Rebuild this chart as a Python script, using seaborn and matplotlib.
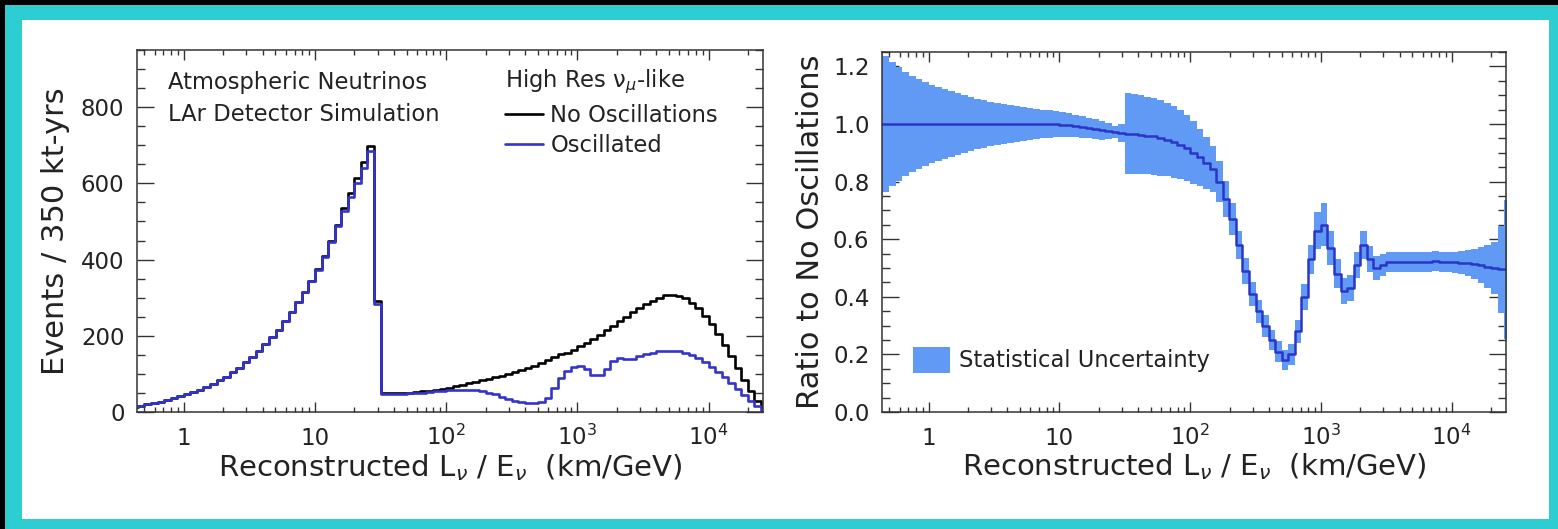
import matplotlib

matplotlib.use("Agg")

import matplotlib.pyplot as plt
import numpy as np
import pandas as pd
import seaborn as sns
from matplotlib.patches import Rectangle
from matplotlib.ticker import LogLocator, MultipleLocator, NullFormatter

sns.set_theme(style="ticks")
plt.rcParams["font.family"] = ["DejaVu Sans"]

# log10(L/E) binning, 0.05 decade bins
LOG_EDGE_LO = -0.40
LOG_EDGE_HI = 4.45
BIN_WIDTH = 0.05

# events per bin, no oscillations (black)
NO_OSC = [
    14, 17, 20, 23, 27, 31, 36, 41, 47, 53,
    59, 66, 74, 83, 93, 104, 116, 130, 145, 161,
    178, 196, 216, 238, 262, 288, 315, 344, 375, 410,
    450, 492, 535, 575, 615, 655, 697, 290, 50, 49,
    49, 50, 51, 52, 54, 56, 58, 61, 64, 67,
    71, 75, 79, 83, 87, 91, 95, 100, 105, 110,
    116, 122, 129, 136, 144, 152, 155, 163, 172, 182,
    192, 203, 214, 226, 238, 250, 262, 273, 283, 292,
    300, 306, 308, 305, 298, 287, 272, 253, 230, 204,
    176, 146, 115, 84, 55, 30, 12,
]

# events per bin, oscillated (blue)
OSC = [
    14, 17, 20, 23, 27, 31, 36, 41, 47, 53,
    59, 66, 74, 83, 93, 104, 116, 130, 145, 161,
    178, 196, 216, 238, 262, 288, 315, 343, 373, 407,
    446, 488, 528, 565, 602, 640, 684, 283, 48, 47,
    47, 48, 49, 50, 51, 52, 54, 56, 57, 58,
    58, 58, 57, 55, 51, 46, 40, 34, 29, 25,
    23, 23, 27, 38, 62, 88, 108, 118, 120, 112,
    98, 96, 112, 135, 143, 138, 140, 148, 152, 156,
    159, 161, 161, 159, 155, 149, 141, 131, 119, 106,
    92, 77, 61, 44, 28, 15, 6,
]

# ratio oscillated / no oscillations and its statistical half-width
RATIO = [
    1.0, 1.0, 1.0, 1.0, 1.0, 1.0, 1.0, 1.0, 1.0, 1.0,
    1.0, 1.0, 1.0, 1.0, 1.0, 1.0, 1.0, 1.0, 1.0, 1.0,
    1.0, 1.0, 1.0, 1.0, 1.0, 1.0, 1.0, 0.999, 0.998, 0.996,
    0.993, 0.99, 0.986, 0.982, 0.978, 0.975, 0.972, 0.969, 0.967, 0.965,
    0.963, 0.96, 0.957, 0.952, 0.946, 0.938, 0.928, 0.916, 0.901, 0.884,
    0.864, 0.845, 0.80, 0.74, 0.67, 0.58, 0.49, 0.41, 0.35, 0.30,
    0.25, 0.21, 0.18, 0.20, 0.28, 0.40, 0.53, 0.63, 0.65, 0.57,
    0.48, 0.42, 0.43, 0.51, 0.58, 0.53, 0.50, 0.51, 0.52, 0.52,
    0.521, 0.522, 0.521, 0.52, 0.522, 0.523, 0.522, 0.521, 0.52, 0.518,
    0.517, 0.515, 0.51, 0.505, 0.50, 0.495, 0.495,
]
RATIO_ERR = [
    0.26, 0.235, 0.215, 0.197, 0.181, 0.167, 0.155, 0.145, 0.136, 0.128,
    0.12, 0.113, 0.106, 0.10, 0.094, 0.088, 0.083, 0.078, 0.074, 0.07,
    0.066, 0.062, 0.058, 0.055, 0.052, 0.049, 0.047, 0.045, 0.043, 0.041,
    0.039, 0.037, 0.036, 0.034, 0.032, 0.028, 0.02, 0.03, 0.14, 0.138,
    0.136, 0.135, 0.133, 0.131, 0.128, 0.125, 0.12, 0.115, 0.108, 0.10,
    0.09, 0.08, 0.07, 0.062, 0.055, 0.05, 0.045, 0.042, 0.04, 0.038,
    0.036, 0.035, 0.035, 0.037, 0.04, 0.045, 0.05, 0.065, 0.075, 0.06,
    0.05, 0.045, 0.045, 0.045, 0.05, 0.045, 0.04, 0.037, 0.035, 0.035,
    0.035, 0.035, 0.035, 0.035, 0.035, 0.035, 0.035, 0.036, 0.037, 0.04,
    0.045, 0.052, 0.062, 0.075, 0.09, 0.15, 0.24,
]

XTICKS = [1, 10, 100, 1000, 10000]
XTICK_LABELS = ["1", "10", "$10^{2}$", "$10^{3}$", "$10^{4}$"]
XLIM = (0.44, 2.6e4)

CYAN = "#2ecdd2"
OSC_BLUE = "#3434cc"
BAND_BLUE = "#609af5"
RATIO_BLUE = "#2b36c6"
TEXT = "#222222"

W, H = 1558, 529

log_edges = np.round(np.arange(LOG_EDGE_LO, LOG_EDGE_HI + 1e-9, BIN_WIDTH), 3)
edges = 10 ** log_edges
bin_list = list(edges)
df = pd.DataFrame(
    {
        "le": 10 ** (log_edges[:-1] + BIN_WIDTH / 2),
        "no_osc": NO_OSC,
        "osc": OSC,
        "ratio": RATIO,
        "err": RATIO_ERR,
    }
)

fig = plt.figure(figsize=(W / 100, H / 100), dpi=100)
fig.patch.set_facecolor("black")
fig.add_artist(
    Rectangle((5 / W, 0), 1 - 5 / W, (H - 5) / H, transform=fig.transFigure,
              facecolor=CYAN, edgecolor="none", zorder=-2)
)
fig.add_artist(
    Rectangle((22 / W, 10 / H), (1549 - 22) / W, (519 - 20) / H,
              transform=fig.transFigure, facecolor="white", edgecolor="none",
              zorder=-1)
)

ax1 = fig.add_axes([137 / W, (H - 412) / H, (763 - 137) / W, (412 - 50) / H])
ax2 = fig.add_axes([882 / W, (H - 412) / H, (1506 - 882) / W, (412 - 52) / H])

# ── left: event spectra ──────────────────────────────────────────────────────
sns.histplot(df, x="le", weights="no_osc", bins=bin_list, element="step",
             fill=False, color="black", linewidth=1.9, label="No Oscillations",
             ax=ax1)
sns.histplot(df, x="le", weights="osc", bins=bin_list, element="step",
             fill=False, color=OSC_BLUE, linewidth=1.9, label="Oscillated",
             ax=ax1)
ax1.set_ylim(0, 950)
ax1.yaxis.set_major_locator(MultipleLocator(200))
ax1.yaxis.set_minor_locator(MultipleLocator(50))
ax1.set_ylabel("Events / 350 kt-yrs", fontsize=22, color=TEXT)
ax1.yaxis.set_label_coords(-0.107, 0.5)

ax1.text(0.0495, 0.909, "Atmospheric Neutrinos", transform=ax1.transAxes,
         fontsize=16.3, va="center", color=TEXT)
ax1.text(0.0495, 0.822, "LAr Detector Simulation", transform=ax1.transAxes,
         fontsize=16.3, va="center", color=TEXT)
leg = ax1.legend(
    title="High Res ν$_{\\mu}$-like",
    loc="upper left",
    bbox_to_anchor=((505 - 137) / 626, (412 - 68) / 362),
    frameon=False,
    fontsize=16.3,
    title_fontsize=16.3,
    handlelength=1.7,
    handletextpad=0.3,
    labelspacing=0.32,
    borderpad=0,
    borderaxespad=0,
    alignment="left",
)
for t in leg.get_texts():
    t.set_color(TEXT)
leg.get_title().set_color(TEXT)

# ── right: ratio with statistical band ───────────────────────────────────────
lower = (df["ratio"] - df["err"]).to_numpy()
upper = (df["ratio"] + df["err"]).to_numpy()
ax2.fill_between(edges, np.append(lower, lower[-1]),
                 np.append(upper, upper[-1]), step="post",
                 color=BAND_BLUE, linewidth=0, label="Statistical Uncertainty")
sns.histplot(df, x="le", weights="ratio", bins=bin_list, element="step",
             fill=False, color=RATIO_BLUE, linewidth=1.8, ax=ax2)
ax2.set_ylim(0, 1.25)
ax2.yaxis.set_major_locator(MultipleLocator(0.2))
ax2.yaxis.set_minor_locator(MultipleLocator(0.05))
ax2.yaxis.set_major_formatter(matplotlib.ticker.FormatStrFormatter("%.1f"))
ax2.set_ylabel("Ratio to No Oscillations", fontsize=22, color=TEXT)
ax2.yaxis.set_label_coords(-0.091, 0.5)
leg2 = ax2.legend(
    loc="center left",
    bbox_to_anchor=((913 - 882) / 624, (412 - 360) / 360),
    frameon=False,
    fontsize=16.3,
    handlelength=1.65,
    handleheight=1.45,
    handletextpad=0.4,
    borderpad=0,
    borderaxespad=0,
)
for t in leg2.get_texts():
    t.set_color(TEXT)

# ── shared axis styling ──────────────────────────────────────────────────────
for ax in (ax1, ax2):
    ax.set_xscale("log")
    ax.set_xlim(*XLIM)
    ax.set_xticks(XTICKS, XTICK_LABELS)
    ax.xaxis.set_minor_locator(LogLocator(base=10, subs=np.arange(2, 10), numticks=50))
    ax.xaxis.set_minor_formatter(NullFormatter())
    ax.set_xlabel("Reconstructed L$_{\\nu}$ / E$_{\\nu}$  (km/GeV)",
                  fontsize=21, color=TEXT)
    ax.xaxis.set_label_coords(0.5, -0.11)
    ax.set_facecolor("white")
    for spine in ax.spines.values():
        spine.set_color("#333333")
        spine.set_linewidth(1.1)
    ax.tick_params(which="both", direction="in", top=True, right=True,
                   color="#333333", labelcolor=TEXT, labelsize=16.5, width=1.0)
    ax.tick_params(axis="x", which="major", length=7.5, pad=23.8)
    ax.tick_params(axis="x", which="minor", length=3.5)
    ax.tick_params(axis="y", which="major", length=12, pad=9)
    ax.tick_params(axis="y", which="minor", length=6)
    for lab in ax.get_xticklabels():
        lab.set_verticalalignment("baseline")

fig.savefig("out.png", dpi=100, facecolor=fig.get_facecolor())
plt.close(fig)
